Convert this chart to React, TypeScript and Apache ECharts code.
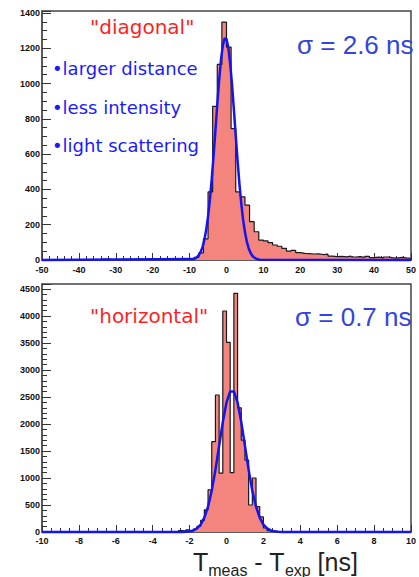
import React, { useEffect, useRef } from 'react';
import * as echarts from 'echarts';

const W = 419;
const H = 577;

// ---- top panel ("diagonal") histogram: bins of 1.25 ns from -50 ns
const diagFirstEdge = -50;
const diagBinWidth = 1.25;
const diagCounts = [
  0, 0, 0, 0, 0, 0, 0, 0, 0, 0,
  0, 0, 0, 5, 4, 0, 0, 0, 0, 0,
  0, 0, 0, 0, 0, 0, 0, 0, 0, 0,
  0, 2, 6, 15, 40, 120, 386, 871, 1108, 1348,
  1206, 745, 386, 358, 311, 217, 160, 113, 108, 98,
  85, 78, 66, 50, 55, 42, 38, 36, 34, 35,
  31, 33, 22, 19, 21, 18, 22, 17, 19, 15,
  20, 14, 16, 12, 17, 13, 11, 15, 12, 10,
];
// gaussian fit curve (sigma = 2.6 ns)
const diagFitX = [-9, -8.5, -8, -7.5, -7, -6.5, -6, -5.5, -5, -4.5, -4, -3.5, -3, -2.5, -2, -1.5, -1, -0.5, 0, 0.5, 1, 1.5, 2, 2.5, 3, 3.5, 4, 4.5, 5, 5.5, 6, 6.5, 7, 7.5, 8, 8.5, 9];
const diagFitY = [5, 9, 16, 27, 46, 73, 114, 171, 246, 342, 458, 591, 735, 881, 1018, 1133, 1215, 1256, 1252, 1202, 1112, 992, 852, 705, 563, 433, 321, 229, 158, 105, 67, 41, 24, 14, 8, 4, 2];

// ---- bottom panel ("horizontal") histogram: bins of 0.2 ns
const horizFirstEdge = -2.8;
const horizBinWidth = 0.2;
const horizCounts = [
  12, 28, 18, 40, 22, 55, 105, 215, 410, 780,
  1672, 2537, 1090, 4093, 3513, 1100, 4420, 2300, 1700, 1330,
  500, 1000, 470, 280, 74, 25, 10, 4,
];
const horizFitX = [-2.4, -2.2, -2.0, -1.8, -1.6, -1.4, -1.2, -1.0, -0.8, -0.6, -0.4, -0.2, 0.0, 0.2, 0.4, 0.6, 0.8, 1.0, 1.2, 1.4, 1.6, 1.8, 2.0, 2.2, 2.4, 2.6, 2.8, 3.0];
const horizFitY = [2, 4, 12, 29, 66, 138, 265, 469, 765, 1151, 1595, 2038, 2399, 2603, 2603, 2399, 2038, 1595, 1151, 765, 469, 265, 138, 66, 29, 12, 4, 2];

const diagRange = [-50, 50];
const horizRange = [-10, 10];

function histData(first: number, width: number, counts: number[], min: number, max: number) {
  const pts: number[][] = [[min, 0]];
  counts.forEach((c, i) => pts.push([+(first + i * width).toFixed(4), c]));
  const end = +(first + counts.length * width).toFixed(4);
  pts.push([end, 0]);
  if (end < max) pts.push([max, 0]);
  return pts;
}

function fitData(xs: number[], ys: number[], min: number, max: number) {
  return [[min, 0], ...xs.map((x, i) => [x, ys[i]]), [max, 0]];
}

export default function App() {
  const ref = useRef<HTMLDivElement>(null);
  useEffect(() => {
    document.body.style.margin = '0';
    const chart = echarts.init(ref.current!, null, { renderer: 'svg' });
    const lbl = { fontFamily: 'Liberation Sans', fontWeight: 'bold' as const, fontSize: 9, color: '#111' };
    const axLine = { show: true, onZero: false, lineStyle: { color: '#555', width: 1.5 } };
    const tick = (len: number) => ({ show: true, inside: true, length: len, lineStyle: { color: '#333', width: 1 } });
    const minor = (n: number, len: number) => ({ show: true, splitNumber: n, length: len, lineStyle: { color: '#333', width: 1 } });
    const red = '#ff1f1f';
    const blue = '#1a1aff';
    const sigmaBlue = '#3344dd';
    chart.setOption({
      animation: false,
      grid: [
        { left: 42, top: 11, width: 378, height: 249, show: true, borderColor: '#444', borderWidth: 1.5 },
        { left: 42, top: 284, width: 378, height: 248, show: true, borderColor: '#444', borderWidth: 1.5 },
      ],
      xAxis: [
        {
          gridIndex: 0, type: 'value', min: diagRange[0], max: diagRange[1], interval: 10,
          axisLine: axLine, axisTick: tick(7), minorTick: minor(5, 4), splitLine: { show: false },
          axisLabel: { ...lbl, margin: 5, lineHeight: 9, hideOverlap: false },
        },
        {
          gridIndex: 1, type: 'value', min: horizRange[0], max: horizRange[1], interval: 2,
          axisLine: axLine, axisTick: tick(7), minorTick: minor(4, 4), splitLine: { show: false },
          axisLabel: { ...lbl, margin: 4, lineHeight: 9, hideOverlap: false },
        },
      ],
      yAxis: [
        {
          gridIndex: 0, type: 'value', min: 0, max: 1411, interval: 200,
          axisLine: axLine, axisTick: tick(9), minorTick: minor(4, 5), splitLine: { show: false },
          axisLabel: { ...lbl, margin: 2, lineHeight: 9, padding: [0, 0, 4, 0], formatter: (v: number) => (v % 200 === 0 ? String(v) : '') },
        },
        {
          gridIndex: 1, type: 'value', min: 0, max: 4593, interval: 500,
          axisLine: axLine, axisTick: tick(9), minorTick: minor(5, 5), splitLine: { show: false },
          axisLabel: { ...lbl, margin: 2, lineHeight: 9, padding: [0, 0, 4, 0], formatter: (v: number) => (v % 500 === 0 ? String(v) : '') },
        },
      ],
      series: [
        {
          type: 'line', xAxisIndex: 0, yAxisIndex: 0, step: 'end', symbol: 'none',
          data: histData(diagFirstEdge, diagBinWidth, diagCounts, diagRange[0], diagRange[1]),
          lineStyle: { color: '#1a1a1a', width: 1.2 }, areaStyle: { color: '#f4857e', opacity: 1 }, z: 2,
        },
        {
          type: 'line', xAxisIndex: 0, yAxisIndex: 0, symbol: 'none', clip: false,
          data: fitData(diagFitX, diagFitY, diagRange[0], diagRange[1]),
          lineStyle: { color: '#1414ee', width: 2.5 }, z: 3,
        },
        {
          type: 'line', xAxisIndex: 1, yAxisIndex: 1, step: 'end', symbol: 'none',
          data: histData(horizFirstEdge, horizBinWidth, horizCounts, horizRange[0], horizRange[1]),
          lineStyle: { color: '#1a1a1a', width: 1.2 }, areaStyle: { color: '#f4857e', opacity: 1 }, z: 2,
        },
        {
          type: 'line', xAxisIndex: 1, yAxisIndex: 1, symbol: 'none', clip: false,
          data: fitData(horizFitX, horizFitY, horizRange[0], horizRange[1]),
          lineStyle: { color: '#1414ee', width: 2.5 }, z: 3,
        },
      ],
      graphic: [
        { type: 'text', x: 90, y: 27, style: { text: '"diagonal"', fill: red, font: '20px "DejaVu Sans"', align: 'left', verticalAlign: 'middle' } },
        { type: 'text', x: 52, y: 68, style: { text: '•larger distance', fill: blue, font: '18px "DejaVu Sans"', align: 'left', verticalAlign: 'middle' } },
        { type: 'text', x: 52, y: 107, style: { text: '•less intensity', fill: blue, font: '18px "DejaVu Sans"', align: 'left', verticalAlign: 'middle' } },
        { type: 'text', x: 52, y: 145, style: { text: '•light scattering', fill: blue, font: '18px "DejaVu Sans"', align: 'left', verticalAlign: 'middle' } },
        { type: 'text', x: 297, y: 45, style: { text: 'σ = 2.6 ns', fill: sigmaBlue, font: '26px "Liberation Sans"', align: 'left', verticalAlign: 'middle' } },
        { type: 'text', x: 90, y: 316, style: { text: '"horizontal"', fill: red, font: '20px "DejaVu Sans"', align: 'left', verticalAlign: 'middle' } },
        { type: 'text', x: 295, y: 317, style: { text: 'σ = 0.7 ns', fill: sigmaBlue, font: '26px "Liberation Sans"', align: 'left', verticalAlign: 'middle' } },
        {
          type: 'text', x: 193, y: 549,
          style: {
            text: '{a|T}{b|meas}{a| - T}{b|exp}{a| [ns]}',
            align: 'left', verticalAlign: 'top', fill: '#222',
            rich: {
              a: { fontFamily: 'Liberation Sans', fontSize: 25, lineHeight: 26, verticalAlign: 'top', fill: '#222' },
              b: { fontFamily: 'Liberation Sans', fontSize: 16, lineHeight: 16, verticalAlign: 'top', padding: [13, 0, 0, 0], fill: '#222' },
            },
          },
        },
      ],
    });
    return () => chart.dispose();
  }, []);
  return <div ref={ref} style={{ width: W, height: H }} />;
}
